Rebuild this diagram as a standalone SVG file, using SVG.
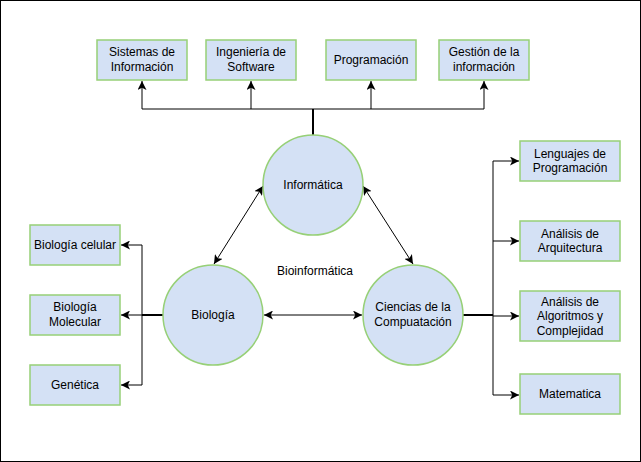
<svg xmlns="http://www.w3.org/2000/svg" width="641" height="462" viewBox="0 0 641 462">
<style>
.box{fill:#d4e1f5;stroke:#97d077;stroke-width:1.5}
.t{font-family:"Liberation Sans",Arial,sans-serif;font-size:12px;fill:#000;text-anchor:middle}
.c{fill:none;stroke:#000;stroke-width:1}
.s{fill:none;stroke:#000;stroke-width:2}
</style>
<defs>
<marker id="a" viewBox="0 0 10 10" refX="10" refY="5" markerWidth="9" markerHeight="9" markerUnits="userSpaceOnUse" orient="auto-start-reverse">
<path d="M0,0 L10,5 L0,10 L2.5,5 Z" fill="#000"/>
</marker>
</defs>
<rect x="0.5" y="0.5" width="640" height="461" fill="#fff" stroke="#000" stroke-width="1"/>
<g id="connectors">
<path class="s" d="M313,135 V109"/>
<path class="c" d="M142,109 H484"/>
<path class="c" d="M142,109 V81" marker-end="url(#a)"/>
<path class="c" d="M251,109 V81" marker-end="url(#a)"/>
<path class="c" d="M371,109 V81" marker-end="url(#a)"/>
<path class="c" d="M484,109 V81" marker-end="url(#a)"/>
<path class="s" d="M163,315 H142"/>
<path class="c" d="M142,245 V385"/>
<path class="c" d="M142,245 H121" marker-end="url(#a)"/>
<path class="c" d="M142,315 H121" marker-end="url(#a)"/>
<path class="c" d="M142,385 H121" marker-end="url(#a)"/>
<path class="s" d="M463,315 H493"/>
<path class="c" d="M493,161 V395"/>
<path class="c" d="M493,161 H519" marker-end="url(#a)"/>
<path class="c" d="M493,241 H519" marker-end="url(#a)"/>
<path class="c" d="M493,316 H519" marker-end="url(#a)"/>
<path class="c" d="M493,395 H519" marker-end="url(#a)"/>
<path class="c" d="M263,186 L214,264" marker-start="url(#a)" marker-end="url(#a)"/>
<path class="c" d="M363,186 L413,264" marker-start="url(#a)" marker-end="url(#a)"/>
<path class="c" d="M264,315 H362" stroke-width="1.5" marker-start="url(#a)" marker-end="url(#a)"/>
</g>
<g id="sistemas"><rect class="box" x="97" y="40" width="90" height="40"/><text class="t" x="142" y="56">Sistemas de</text><text class="t" x="142" y="71">Información</text></g>
<g id="ingenieria"><rect class="box" x="206" y="40" width="90" height="40"/><text class="t" x="251" y="56">Ingeniería de</text><text class="t" x="251" y="71">Software</text></g>
<g id="programacion"><rect class="box" x="326" y="40" width="90" height="40"/><text class="t" x="371" y="64">Programación</text></g>
<g id="gestion"><rect class="box" x="439" y="40" width="90" height="40"/><text class="t" x="484" y="56">Gestión de la</text><text class="t" x="484" y="71">información</text></g>
<g id="informatica"><circle class="box" cx="313" cy="185" r="50"/><text class="t" x="313" y="189">Informática</text></g>
<g id="biologia"><circle class="box" cx="213" cy="315" r="50"/><text class="t" x="213" y="319">Biología</text></g>
<g id="ciencias"><circle class="box" cx="413" cy="315" r="50"/><text class="t" x="413" y="311">Ciencias de la</text><text class="t" x="413" y="326">Compuatación</text></g>
<g id="bioinformatica"><text class="t" x="315" y="275">Bioinformática</text></g>
<g id="celular"><rect class="box" x="30" y="225" width="90" height="40"/><text class="t" x="75" y="249">Biología celular</text></g>
<g id="molecular"><rect class="box" x="30" y="295" width="90" height="40"/><text class="t" x="75" y="311">Biología</text><text class="t" x="75" y="326">Molecular</text></g>
<g id="genetica"><rect class="box" x="30" y="365" width="90" height="40"/><text class="t" x="75" y="389">Genética</text></g>
<g id="lenguajes"><rect class="box" x="520" y="141" width="100" height="40"/><text class="t" x="570" y="158">Lenguajes de</text><text class="t" x="570" y="172">Programación</text></g>
<g id="arquitectura"><rect class="box" x="520" y="221" width="100" height="40"/><text class="t" x="570" y="238">Análisis de</text><text class="t" x="570" y="252">Arquitectura</text></g>
<g id="algoritmos"><rect class="box" x="520" y="291" width="100" height="50"/><text class="t" x="570" y="306">Análisis de</text><text class="t" x="570" y="320">Algoritmos y</text><text class="t" x="570" y="335">Complejidad</text></g>
<g id="matematica"><rect class="box" x="520" y="374" width="100" height="40"/><text class="t" x="570" y="398">Matematica</text></g>
</svg>
